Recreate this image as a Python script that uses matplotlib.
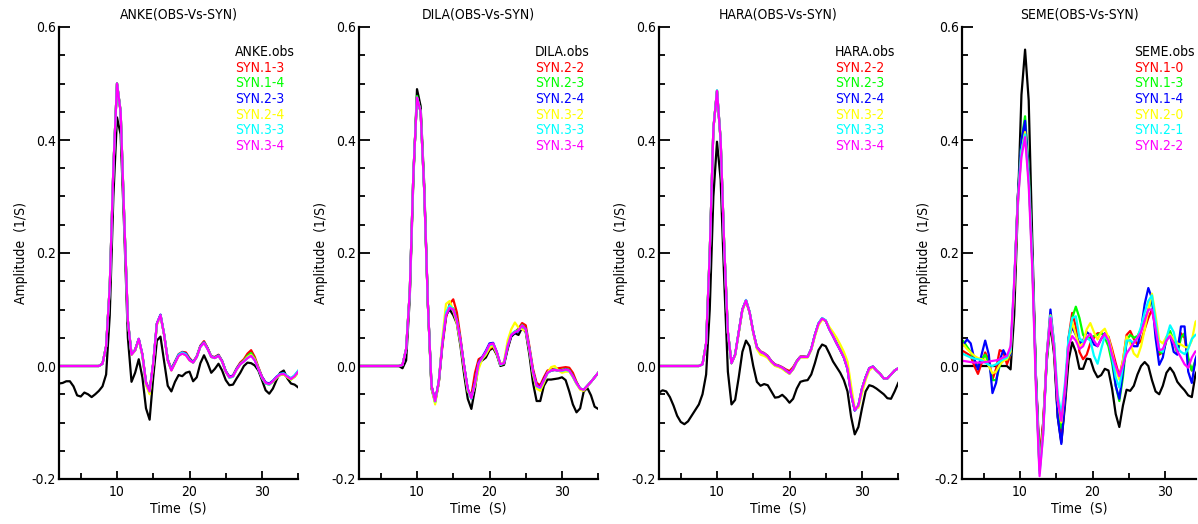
import matplotlib
matplotlib.use('Agg')
import matplotlib.pyplot as plt
import numpy as np
from matplotlib.ticker import MultipleLocator, FormatStrFormatter

plt.rcParams['font.family'] = ['Liberation Sans Narrow', 'DejaVu Sans']
plt.rcParams['font.stretch'] = 'condensed'

# sample times (s)
t_grid = np.arange(2.0, 35.01, 0.5)
t_seme = np.arange(1.7, 34.71, 0.5)

syn_colors = ['#ff0000', '#00ff00', '#0000ff', '#ffff00', '#00ffff', '#ff00ff']

### ANKE
anke_labels = ['SYN.1-3', 'SYN.1-4', 'SYN.2-3', 'SYN.2-4', 'SYN.3-3', 'SYN.3-4']
anke_obs = [-0.031, -0.030, -0.027, -0.027, -0.036, -0.052, -0.054, -0.047, -0.050, -0.055,
            -0.050, -0.044, -0.036, -0.015, 0.09, 0.30, 0.44, 0.41, 0.24, 0.05,
            -0.028, -0.012, 0.012, -0.020, -0.075, -0.095, -0.020, 0.045, 0.052, 0.008,
            -0.035, -0.045, -0.028, -0.016, -0.018, -0.012, -0.010, -0.027, -0.020, 0.005,
            0.019, 0.005, -0.012, -0.005, 0.004, -0.008, -0.025, -0.034, -0.033, -0.022,
            -0.012, 0.000, 0.006, 0.005, 0.001, -0.008, -0.025, -0.043, -0.049, -0.040,
            -0.025, -0.012, -0.008, -0.022, -0.031, -0.033, -0.038]
anke_1_3 = [0.0, 0.0, 0.0, 0.0, 0.0, 0.0, 0.0, 0.0, 0.0, 0.0,
            0.0, 0.0, 0.004, 0.035, 0.14, 0.35, 0.50, 0.45, 0.26, 0.08,
            0.021, 0.029, 0.048, 0.021, -0.028, -0.043, 0.006, 0.075, 0.090, 0.056,
            0.012, -0.005, 0.008, 0.021, 0.025, 0.024, 0.014, 0.007, 0.017, 0.036,
            0.044, 0.032, 0.017, 0.016, 0.020, 0.009, -0.009, -0.019, -0.017, -0.004,
            0.006, 0.012, 0.022, 0.028, 0.016, -0.002, -0.019, -0.030, -0.032, -0.027,
            -0.020, -0.015, -0.014, -0.019, -0.023, -0.018, -0.010]
anke_1_4 = [0.0, 0.0, 0.0, 0.0, 0.0, 0.0, 0.0, 0.0, 0.0, 0.0,
            0.0, 0.0, 0.004, 0.035, 0.14, 0.35, 0.50, 0.45, 0.26, 0.08,
            0.020, 0.028, 0.047, 0.019, -0.032, -0.048, 0.004, 0.074, 0.090, 0.055,
            0.010, -0.007, 0.006, 0.019, 0.023, 0.021, 0.011, 0.006, 0.016, 0.035,
            0.042, 0.031, 0.016, 0.015, 0.019, 0.008, -0.010, -0.020, -0.018, -0.005,
            0.004, 0.010, 0.018, 0.023, 0.013, -0.004, -0.020, -0.031, -0.033, -0.028,
            -0.021, -0.016, -0.015, -0.020, -0.024, -0.019, -0.011]
anke_2_3 = [0.0, 0.0, 0.0, 0.0, 0.0, 0.0, 0.0, 0.0, 0.0, 0.0,
            0.0, 0.0, 0.004, 0.035, 0.14, 0.35, 0.50, 0.45, 0.26, 0.08,
            0.021, 0.028, 0.048, 0.020, -0.030, -0.045, 0.005, 0.075, 0.091, 0.056,
            0.011, -0.006, 0.007, 0.020, 0.024, 0.022, 0.012, 0.007, 0.017, 0.035,
            0.042, 0.031, 0.017, 0.015, 0.019, 0.009, -0.009, -0.019, -0.017, -0.005,
            0.004, 0.009, 0.015, 0.019, 0.011, -0.004, -0.019, -0.029, -0.031, -0.026,
            -0.019, -0.014, -0.013, -0.018, -0.022, -0.017, -0.009]
anke_2_4 = [0.0, 0.0, 0.0, 0.0, 0.0, 0.0, 0.0, 0.0, 0.0, 0.0,
            0.0, 0.0, 0.004, 0.035, 0.14, 0.35, 0.50, 0.45, 0.26, 0.08,
            0.020, 0.027, 0.046, 0.018, -0.034, -0.050, 0.002, 0.072, 0.089, 0.055,
            0.010, -0.008, 0.005, 0.018, 0.022, 0.019, 0.010, 0.006, 0.016, 0.034,
            0.041, 0.030, 0.016, 0.014, 0.018, 0.008, -0.011, -0.021, -0.019, -0.007,
            0.003, 0.009, 0.016, 0.020, 0.012, -0.004, -0.021, -0.031, -0.033, -0.028,
            -0.021, -0.016, -0.015, -0.020, -0.024, -0.019, -0.011]
anke_3_3 = [0.0, 0.0, 0.0, 0.0, 0.0, 0.0, 0.0, 0.0, 0.0, 0.0,
            0.0, 0.0, 0.004, 0.035, 0.14, 0.35, 0.50, 0.45, 0.26, 0.08,
            0.021, 0.028, 0.048, 0.020, -0.030, -0.045, 0.005, 0.075, 0.090, 0.056,
            0.011, -0.007, 0.006, 0.020, 0.024, 0.021, 0.011, 0.006, 0.016, 0.034,
            0.041, 0.030, 0.016, 0.014, 0.018, 0.008, -0.010, -0.021, -0.019, -0.006,
            0.003, 0.008, 0.014, 0.018, 0.010, -0.005, -0.021, -0.031, -0.033, -0.027,
            -0.020, -0.014, -0.013, -0.018, -0.022, -0.016, -0.008]
anke_3_4 = [0.0, 0.0, 0.0, 0.0, 0.0, 0.0, 0.0, 0.0, 0.0, 0.0,
            0.0, 0.0, 0.004, 0.035, 0.14, 0.35, 0.50, 0.45, 0.26, 0.08,
            0.020, 0.028, 0.048, 0.020, -0.030, -0.045, 0.005, 0.075, 0.090, 0.055,
            0.010, -0.008, 0.005, 0.018, 0.022, 0.019, 0.010, 0.006, 0.016, 0.034,
            0.041, 0.030, 0.016, 0.014, 0.018, 0.008, -0.010, -0.020, -0.018, -0.006,
            0.003, 0.008, 0.014, 0.018, 0.010, -0.005, -0.020, -0.030, -0.032, -0.027,
            -0.020, -0.015, -0.014, -0.019, -0.023, -0.018, -0.010]

### DILA
dila_labels = ['SYN.2-2', 'SYN.2-3', 'SYN.2-4', 'SYN.3-2', 'SYN.3-3', 'SYN.3-4']
dila_obs = [0.0, 0.0, 0.0, 0.0, 0.0, 0.0, 0.0, 0.0, 0.0, 0.0,
            0.0, 0.0, -0.004, 0.01, 0.12, 0.33, 0.49, 0.46, 0.32, 0.11,
            -0.040, -0.064, -0.030, 0.040, 0.090, 0.100, 0.090, 0.075, 0.035, -0.015,
            -0.058, -0.076, -0.040, 0.004, 0.010, 0.015, 0.028, 0.032, 0.020, 0.000,
            0.002, 0.030, 0.052, 0.058, 0.055, 0.068, 0.060, 0.020, -0.030, -0.062,
            -0.062, -0.035, -0.024, -0.024, -0.023, -0.022, -0.020, -0.025, -0.045, -0.068,
            -0.082, -0.075, -0.045, -0.039, -0.052, -0.072, -0.076]
dila_2_2 = [0.0, 0.0, 0.0, 0.0, 0.0, 0.0, 0.0, 0.0, 0.0, 0.0,
            0.0, 0.0, 0.002, 0.03, 0.13, 0.34, 0.475, 0.45, 0.31, 0.11,
            -0.035, -0.062, -0.030, 0.035, 0.085, 0.110, 0.118, 0.095, 0.050, 0.000,
            -0.042, -0.052, -0.012, 0.012, 0.016, 0.022, 0.030, 0.035, 0.022, 0.002,
            0.004, 0.032, 0.055, 0.060, 0.066, 0.076, 0.072, 0.035, -0.005, -0.030,
            -0.034, -0.020, -0.008, -0.006, -0.005, -0.004, -0.003, -0.002, -0.003, -0.012,
            -0.028, -0.040, -0.042, -0.035, -0.028, -0.020, -0.012]
dila_2_3 = [0.0, 0.0, 0.0, 0.0, 0.0, 0.0, 0.0, 0.0, 0.0, 0.0,
            0.0, 0.0, 0.002, 0.03, 0.13, 0.34, 0.478, 0.45, 0.31, 0.11,
            -0.036, -0.064, -0.029, 0.040, 0.090, 0.104, 0.102, 0.082, 0.045, 0.000,
            -0.042, -0.058, -0.030, 0.006, 0.015, 0.024, 0.036, 0.039, 0.024, 0.002,
            0.004, 0.034, 0.056, 0.061, 0.064, 0.073, 0.066, 0.031, -0.010, -0.036,
            -0.039, -0.026, -0.012, -0.008, -0.007, -0.008, -0.007, -0.005, -0.007, -0.017,
            -0.030, -0.040, -0.042, -0.035, -0.028, -0.020, -0.012]
dila_2_4 = [0.0, 0.0, 0.0, 0.0, 0.0, 0.0, 0.0, 0.0, 0.0, 0.0,
            0.0, 0.0, 0.002, 0.03, 0.13, 0.34, 0.475, 0.45, 0.31, 0.11,
            -0.035, -0.062, -0.028, 0.040, 0.090, 0.102, 0.100, 0.080, 0.045, 0.000,
            -0.041, -0.056, -0.028, 0.006, 0.016, 0.027, 0.040, 0.041, 0.025, 0.003,
            0.005, 0.034, 0.054, 0.059, 0.062, 0.071, 0.065, 0.030, -0.010, -0.034,
            -0.037, -0.024, -0.011, -0.008, -0.007, -0.008, -0.008, -0.006, -0.008, -0.018,
            -0.030, -0.040, -0.042, -0.035, -0.028, -0.020, -0.012]
dila_3_2 = [0.0, 0.0, 0.0, 0.0, 0.0, 0.0, 0.0, 0.0, 0.0, 0.0,
            0.0, 0.0, 0.002, 0.03, 0.13, 0.34, 0.475, 0.45, 0.31, 0.11,
            -0.038, -0.068, -0.030, 0.050, 0.110, 0.115, 0.098, 0.075, 0.040, -0.005,
            -0.045, -0.055, -0.035, -0.005, 0.012, 0.020, 0.032, 0.036, 0.022, 0.002,
            0.008, 0.045, 0.065, 0.077, 0.068, 0.065, 0.062, 0.028, -0.015, -0.040,
            -0.044, -0.030, -0.012, -0.002, 0.000, -0.008, -0.012, -0.010, -0.010, -0.020,
            -0.032, -0.042, -0.044, -0.036, -0.028, -0.020, -0.012]
dila_3_3 = [0.0, 0.0, 0.0, 0.0, 0.0, 0.0, 0.0, 0.0, 0.0, 0.0,
            0.0, 0.0, 0.002, 0.03, 0.13, 0.34, 0.475, 0.45, 0.31, 0.11,
            -0.036, -0.063, -0.028, 0.042, 0.095, 0.107, 0.100, 0.080, 0.044, -0.001,
            -0.042, -0.058, -0.031, 0.004, 0.014, 0.024, 0.037, 0.039, 0.024, 0.002,
            0.006, 0.036, 0.056, 0.061, 0.063, 0.071, 0.064, 0.030, -0.011, -0.036,
            -0.039, -0.026, -0.013, -0.008, -0.006, -0.008, -0.009, -0.007, -0.009, -0.019,
            -0.031, -0.040, -0.042, -0.035, -0.028, -0.020, -0.012]
dila_3_4 = [0.0, 0.0, 0.0, 0.0, 0.0, 0.0, 0.0, 0.0, 0.0, 0.0,
            0.0, 0.0, 0.002, 0.03, 0.13, 0.34, 0.475, 0.45, 0.31, 0.11,
            -0.035, -0.062, -0.028, 0.040, 0.090, 0.103, 0.100, 0.080, 0.045, 0.000,
            -0.040, -0.057, -0.030, 0.005, 0.015, 0.025, 0.038, 0.040, 0.025, 0.003,
            0.005, 0.035, 0.055, 0.060, 0.063, 0.072, 0.065, 0.030, -0.010, -0.035,
            -0.038, -0.025, -0.012, -0.008, -0.007, -0.008, -0.008, -0.006, -0.008, -0.018,
            -0.030, -0.040, -0.042, -0.035, -0.028, -0.020, -0.012]

### HARA
hara_labels = ['SYN.2-2', 'SYN.2-3', 'SYN.2-4', 'SYN.3-2', 'SYN.3-3', 'SYN.3-4']
hara_obs = [-0.047, -0.043, -0.045, -0.055, -0.070, -0.088, -0.099, -0.103, -0.098, -0.088,
            -0.078, -0.068, -0.050, -0.015, 0.10, 0.30, 0.397, 0.33, 0.15, -0.01,
            -0.068, -0.060, -0.020, 0.025, 0.045, 0.035, 0.000, -0.028, -0.035, -0.032,
            -0.034, -0.045, -0.056, -0.055, -0.051, -0.057, -0.065, -0.058, -0.040, -0.028,
            -0.026, -0.025, -0.015, 0.005, 0.028, 0.038, 0.035, 0.022, 0.008, -0.002,
            -0.012, -0.025, -0.045, -0.090, -0.121, -0.108, -0.075, -0.045, -0.034, -0.036,
            -0.040, -0.045, -0.050, -0.057, -0.058, -0.045, -0.030]
hara_2_2 = [0.0, 0.0, 0.0, 0.0, 0.0, 0.0, 0.0, 0.0, 0.0, 0.0,
            0.0, 0.0, 0.003, 0.04, 0.20, 0.42, 0.487, 0.40, 0.21, 0.06,
            0.005, 0.020, 0.060, 0.100, 0.116, 0.095, 0.060, 0.034, 0.026, 0.023,
            0.018, 0.009, 0.003, 0.001, -0.002, -0.006, -0.009, -0.002, 0.009, 0.017,
            0.017, 0.016, 0.030, 0.055, 0.075, 0.084, 0.080, 0.065, 0.053, 0.040,
            0.028, 0.015, -0.005, -0.050, -0.078, -0.070, -0.040, -0.020, -0.004, -0.001,
            -0.008, -0.014, -0.022, -0.022, -0.015, -0.008, -0.004]
hara_2_3 = [0.0, 0.0, 0.0, 0.0, 0.0, 0.0, 0.0, 0.0, 0.0, 0.0,
            0.0, 0.0, 0.003, 0.04, 0.20, 0.42, 0.487, 0.40, 0.21, 0.06,
            0.005, 0.020, 0.060, 0.100, 0.116, 0.095, 0.060, 0.032, 0.024, 0.021,
            0.016, 0.007, 0.001, -0.001, -0.004, -0.009, -0.013, -0.005, 0.008, 0.016,
            0.016, 0.016, 0.030, 0.055, 0.075, 0.084, 0.080, 0.066, 0.054, 0.041,
            0.029, 0.016, -0.004, -0.049, -0.078, -0.070, -0.040, -0.020, -0.004, -0.001,
            -0.008, -0.014, -0.022, -0.022, -0.015, -0.008, -0.004]
hara_2_4 = [0.0, 0.0, 0.0, 0.0, 0.0, 0.0, 0.0, 0.0, 0.0, 0.0,
            0.0, 0.0, 0.003, 0.04, 0.20, 0.42, 0.487, 0.40, 0.21, 0.06,
            0.005, 0.020, 0.060, 0.100, 0.116, 0.095, 0.060, 0.033, 0.025, 0.022,
            0.017, 0.008, 0.002, 0.000, -0.003, -0.008, -0.013, -0.005, 0.008, 0.016,
            0.016, 0.016, 0.030, 0.055, 0.075, 0.084, 0.080, 0.065, 0.053, 0.040,
            0.028, 0.015, -0.005, -0.050, -0.079, -0.071, -0.040, -0.020, -0.004, -0.001,
            -0.008, -0.014, -0.022, -0.022, -0.015, -0.008, -0.004]
hara_3_2 = [0.0, 0.0, 0.0, 0.0, 0.0, 0.0, 0.0, 0.0, 0.0, 0.0,
            0.0, 0.0, 0.003, 0.04, 0.20, 0.42, 0.487, 0.40, 0.21, 0.06,
            0.005, 0.019, 0.058, 0.098, 0.115, 0.095, 0.058, 0.030, 0.020, 0.018,
            0.014, 0.006, 0.000, -0.002, -0.005, -0.010, -0.014, -0.006, 0.007, 0.015,
            0.015, 0.015, 0.028, 0.052, 0.072, 0.082, 0.080, 0.069, 0.060, 0.050,
            0.038, 0.025, 0.008, -0.035, -0.075, -0.074, -0.048, -0.025, -0.008, -0.002,
            -0.008, -0.014, -0.022, -0.022, -0.015, -0.008, -0.004]
hara_3_3 = [0.0, 0.0, 0.0, 0.0, 0.0, 0.0, 0.0, 0.0, 0.0, 0.0,
            0.0, 0.0, 0.003, 0.04, 0.20, 0.42, 0.488, 0.40, 0.21, 0.06,
            0.005, 0.020, 0.060, 0.100, 0.117, 0.096, 0.060, 0.033, 0.025, 0.022,
            0.017, 0.008, 0.002, 0.000, -0.003, -0.008, -0.013, -0.005, 0.008, 0.016,
            0.016, 0.016, 0.030, 0.055, 0.076, 0.085, 0.081, 0.065, 0.053, 0.040,
            0.028, 0.015, -0.005, -0.050, -0.078, -0.070, -0.040, -0.020, -0.004, -0.001,
            -0.008, -0.014, -0.022, -0.022, -0.015, -0.008, -0.004]
hara_3_4 = [0.0, 0.0, 0.0, 0.0, 0.0, 0.0, 0.0, 0.0, 0.0, 0.0,
            0.0, 0.0, 0.003, 0.04, 0.20, 0.42, 0.487, 0.40, 0.21, 0.06,
            0.005, 0.020, 0.060, 0.100, 0.116, 0.095, 0.060, 0.033, 0.025, 0.022,
            0.017, 0.008, 0.002, 0.000, -0.003, -0.008, -0.013, -0.005, 0.008, 0.016,
            0.016, 0.016, 0.030, 0.055, 0.075, 0.084, 0.080, 0.065, 0.053, 0.040,
            0.028, 0.015, -0.005, -0.050, -0.078, -0.070, -0.040, -0.020, -0.004, -0.001,
            -0.008, -0.014, -0.022, -0.022, -0.015, -0.008, -0.004]

### SEME
seme_labels = ['SYN.1-0', 'SYN.1-3', 'SYN.1-4', 'SYN.2-0', 'SYN.2-1', 'SYN.2-2']
seme_obs = [0.0, 0.0, 0.0, 0.0, 0.0, 0.0, 0.0, 0.0, 0.0, 0.0,
            0.0, 0.0, 0.0, 0.0, -0.006, 0.09, 0.28, 0.48, 0.56, 0.47,
            0.22, -0.02, -0.185, -0.10, 0.01, 0.075, 0.02, -0.09, -0.135, -0.07,
            0.01, 0.042, 0.025, -0.005, -0.005, 0.013, 0.012, -0.008, -0.020, -0.016,
            -0.005, -0.008, -0.040, -0.085, -0.108, -0.070, -0.042, -0.044, -0.035, -0.015,
            0.0, 0.007, 0.0, -0.025, -0.045, -0.050, -0.035, -0.012, -0.003, -0.012,
            -0.028, -0.036, -0.043, -0.052, -0.055, -0.015, 0.0]
seme_1_0 = [0.028, 0.026, 0.022, 0.018, 0.0, -0.014, 0.005, 0.024, 0.010, -0.024,
            -0.005, 0.028, 0.025, 0.003, 0.02, 0.14, 0.30, 0.39, 0.426, 0.34,
            0.19, -0.02, -0.16, -0.10, 0.02, 0.085, 0.03, -0.08, -0.13, -0.06,
            0.05, 0.094, 0.07, 0.025, 0.012, 0.020, 0.040, 0.050, 0.058, 0.058,
            0.055, 0.052, 0.030, 0.005, -0.018, 0.010, 0.055, 0.062, 0.048, 0.038,
            0.045, 0.065, 0.085, 0.100, 0.070, 0.020, 0.025, 0.048, 0.055, 0.040,
            0.035, 0.058, 0.050, 0.010, -0.008, 0.005, 0.010]
seme_1_3 = [0.045, 0.044, 0.034, 0.025, 0.010, 0.0, 0.012, 0.020, 0.005, -0.025,
            -0.025, 0.0, 0.015, 0.012, 0.02, 0.14, 0.30, 0.40, 0.442, 0.35,
            0.19, -0.02, -0.18, -0.11, 0.01, 0.087, 0.03, -0.07, -0.11, -0.05,
            0.04, 0.085, 0.105, 0.085, 0.055, 0.048, 0.050, 0.053, 0.055, 0.059,
            0.050, 0.035, 0.005, -0.035, -0.062, -0.020, 0.045, 0.055, 0.050, 0.053,
            0.065, 0.080, 0.100, 0.118, 0.075, 0.025, 0.022, 0.045, 0.062, 0.045,
            0.021, 0.050, 0.058, 0.015, -0.008, 0.010, 0.020]
seme_1_4 = [0.030, 0.038, 0.047, 0.040, 0.012, -0.006, 0.020, 0.045, 0.020, -0.048,
            -0.030, 0.010, 0.028, 0.015, 0.02, 0.14, 0.30, 0.40, 0.434, 0.34,
            0.19, -0.02, -0.175, -0.11, 0.02, 0.10, 0.04, -0.09, -0.138, -0.06,
            0.050, 0.068, 0.055, 0.040, 0.045, 0.060, 0.055, 0.038, 0.035, 0.048,
            0.058, 0.050, 0.015, -0.035, -0.058, -0.010, 0.045, 0.045, 0.035, 0.035,
            0.065, 0.110, 0.138, 0.120, 0.050, 0.002, 0.015, 0.050, 0.055, 0.025,
            0.020, 0.070, 0.070, -0.010, -0.030, 0.012, 0.030]
seme_2_0 = [0.040, 0.038, 0.030, 0.024, 0.018, 0.014, 0.012, 0.010, 0.0, -0.013,
            -0.010, 0.002, 0.009, 0.012, 0.025, 0.14, 0.29, 0.38, 0.414, 0.33,
            0.18, -0.03, -0.185, -0.11, 0.02, 0.09, 0.04, -0.06, -0.10, -0.04,
            0.04, 0.078, 0.055, 0.035, 0.040, 0.065, 0.076, 0.060, 0.047, 0.060,
            0.066, 0.050, 0.025, -0.005, -0.024, 0.010, 0.052, 0.040, 0.022, 0.016,
            0.035, 0.065, 0.100, 0.128, 0.090, 0.045, 0.040, 0.052, 0.056, 0.048,
            0.040, 0.038, 0.034, 0.032, 0.045, 0.078, 0.085]
seme_2_1 = [0.022, 0.021, 0.018, 0.015, 0.013, 0.012, 0.010, 0.006, 0.002, 0.0,
            0.003, 0.008, 0.012, 0.015, 0.03, 0.15, 0.29, 0.38, 0.41, 0.33,
            0.18, -0.03, -0.19, -0.12, 0.02, 0.088, 0.04, -0.05, -0.085, -0.03,
            0.05, 0.085, 0.088, 0.050, 0.042, 0.050, 0.045, 0.018, 0.004, 0.030,
            0.053, 0.045, 0.015, -0.020, -0.038, 0.0, 0.045, 0.045, 0.041, 0.050,
            0.070, 0.095, 0.115, 0.125, 0.080, 0.030, 0.025, 0.050, 0.072, 0.060,
            0.032, 0.025, 0.021, 0.030, 0.048, 0.055, 0.058]
seme_2_2 = [0.010, 0.009, 0.008, 0.007, 0.006, 0.006, 0.006, 0.007, 0.008, 0.009,
            0.010, 0.012, 0.015, 0.018, 0.035, 0.15, 0.29, 0.37, 0.405, 0.32,
            0.17, -0.04, -0.195, -0.12, 0.02, 0.085, 0.03, -0.06, -0.097, -0.04,
            0.035, 0.053, 0.045, 0.030, 0.035, 0.050, 0.057, 0.045, 0.035, 0.048,
            0.057, 0.045, 0.020, 0.0, -0.018, 0.002, 0.022, 0.032, 0.041, 0.050,
            0.060, 0.080, 0.100, 0.100, 0.065, 0.028, 0.030, 0.045, 0.053, 0.040,
            0.026, 0.015, 0.003, -0.003, 0.015, 0.026, 0.022]

panels = [
    ('ANKE', t_grid, anke_obs, anke_labels, [anke_1_3, anke_1_4, anke_2_3, anke_2_4, anke_3_3, anke_3_4], 59, 35.0),
    ('DILA', t_grid, dila_obs, dila_labels, [dila_2_2, dila_2_3, dila_2_4, dila_3_2, dila_3_3, dila_3_4], 359, 35.0),
    ('HARA', t_grid, hara_obs, hara_labels, [hara_2_2, hara_2_3, hara_2_4, hara_3_2, hara_3_3, hara_3_4], 659, 35.0),
    ('SEME', t_seme, seme_obs, seme_labels, [seme_1_0, seme_1_3, seme_1_4, seme_2_0, seme_2_1, seme_2_2], 962, 34.3),
]

W, H = 1198, 524
fig = plt.figure(figsize=(W / 100, H / 100), dpi=100)
fs = 10

for name, t, obs, labels, syns, left_px, xmax in panels:
    width_px = (xmax - 2.0) * 7.25
    ax = fig.add_axes([left_px / W, 45 / H, width_px / W, 452 / H])

    ax.plot(t, obs, color='black', linewidth=1.6, solid_joinstyle='round')
    for vals, c in zip(syns, syn_colors):
        ax.plot(t, vals, color=c, linewidth=1.6, solid_joinstyle='round')

    ax.set_xlim(2.0, xmax)
    ax.set_ylim(-0.2, 0.6)
    for s in ['top', 'right']:
        ax.spines[s].set_visible(False)
    for s in ['left', 'bottom']:
        ax.spines[s].set_linewidth(1.6)

    ax.xaxis.set_major_locator(MultipleLocator(10))
    ax.xaxis.set_minor_locator(MultipleLocator(5))
    ax.yaxis.set_major_locator(MultipleLocator(0.2))
    ax.yaxis.set_minor_locator(MultipleLocator(0.05))
    ax.yaxis.set_major_formatter(FormatStrFormatter('%.1f'))
    ax.tick_params(axis='y', which='major', direction='in', length=8, width=1.3, labelsize=fs, pad=2)
    ax.tick_params(axis='y', which='minor', direction='in', length=4.5, width=1.3)
    ax.tick_params(axis='x', which='major', direction='in', length=6, width=1.3, labelsize=fs, pad=4)
    ax.tick_params(axis='x', which='minor', direction='in', length=4, width=1.3)

    ax.set_title(name + '(OBS-Vs-SYN)', fontsize=fs, pad=6)
    ax.set_ylabel('Amplitude  (1/S)', fontsize=fs, labelpad=3)
    ax.set_xlabel('Time  (S)', fontsize=fs, labelpad=2)

    # colour keyed station list
    ax.text(0.735, 0.945, name + '.obs', color='black', fontsize=fs,
            transform=ax.transAxes, va='center')
    for k, (lab, c) in enumerate(zip(labels, syn_colors)):
        ax.text(0.735, 0.945 - (k + 1) * 0.0347, lab, color=c, fontsize=fs,
                transform=ax.transAxes, va='center')

plt.savefig('out.png', dpi=100)
plt.close()
